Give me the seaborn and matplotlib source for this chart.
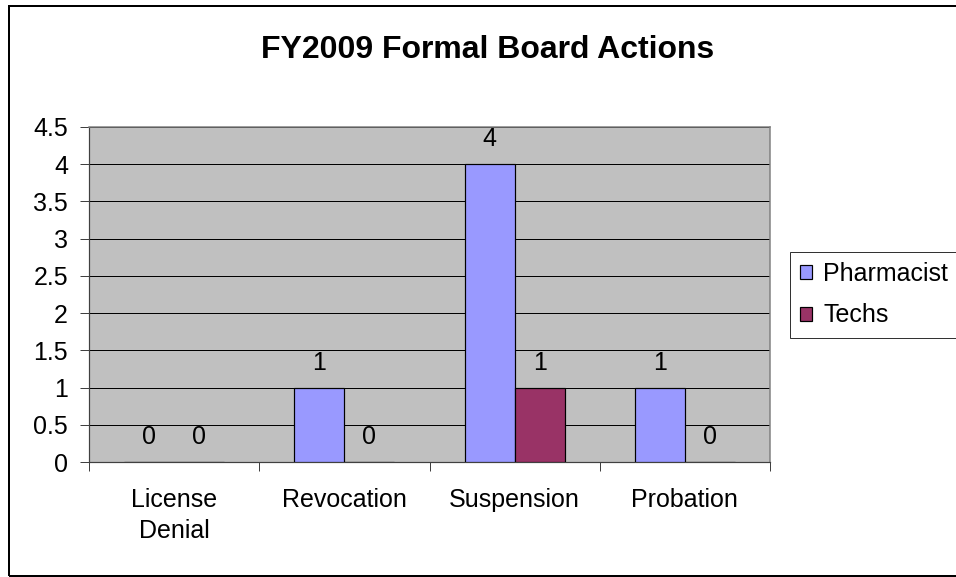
import matplotlib
matplotlib.use("Agg")
import matplotlib.pyplot as plt
import matplotlib.patches as mpatches
import pandas as pd
import seaborn as sns

# Données du graphique
categories = ["License\nDenial", "Revocation", "Suspension", "Probation"]
pharmacist = [0, 1, 4, 1]
techs = [0, 0, 1, 0]
series_names = ["Pharmacist", "Techs"]
y_ticks = [0, 0.5, 1, 1.5, 2, 2.5, 3, 3.5, 4, 4.5]

df = pd.DataFrame({
    "categorie": categories * 2,
    "valeur": pharmacist + techs,
    "serie": [series_names[0]] * len(categories) + [series_names[1]] * len(categories),
})

sns.set_theme(style="white")
plt.rcParams["font.family"] = ["Liberation Sans", "DejaVu Sans"]
plt.rcParams["text.color"] = "black"
plt.rcParams["xtick.labelcolor"] = "black"
plt.rcParams["ytick.labelcolor"] = "black"

fig = plt.figure(figsize=(956 / 72, 577 / 72), dpi=72)
ax = fig.add_axes([89 / 956, 1 - 462 / 577, (770 - 89) / 956, (462 - 127) / 577])

sns.barplot(
    data=df, x="categorie", y="valeur", hue="serie",
    palette=["#9999FF", "#993366"], width=0.588,
    edgecolor="black", linewidth=1.2, saturation=1, ax=ax, zorder=3,
)

# Fond gris type Excel et quadrillage noir
ax.set_facecolor("#C0C0C0")
ax.set_ylim(0, 4.5)
ax.set_xlim(-0.5, len(categories) - 0.5)
ax.set_yticks(y_ticks)
ax.set_yticklabels([f"{t:g}" for t in y_ticks])
ax.yaxis.grid(True, color="black", linewidth=1)
ax.set_axisbelow(True)
ax.set_xlabel("")
ax.set_ylabel("")

for side in ["top", "right"]:
    ax.spines[side].set_color("#808080")
    ax.spines[side].set_linewidth(1.5)
for side in ["left", "bottom"]:
    ax.spines[side].set_color("#404040")
    ax.spines[side].set_linewidth(1.2)

ax.tick_params(axis="y", left=True, length=9, width=1, pad=12, labelsize=25,
               color="#404040", labelcolor="black")
ax.tick_params(axis="x", which="major", length=0, pad=26, labelsize=25, labelcolor="black")
ax.set_xticks([i + 0.5 for i in range(-1, len(categories))], minor=True)
ax.tick_params(axis="x", which="minor", bottom=True, length=9, width=1, color="#404040")
for lbl in ax.get_xticklabels():
    lbl.set_linespacing(1.35)

# Étiquettes de valeurs au-dessus des barres
for cont in ax.containers:
    ax.bar_label(cont, fmt="%g", padding=13, fontsize=25, color="black")

# Légende à droite
handles, labels = ax.get_legend_handles_labels()
ax.get_legend().remove()
leg = fig.legend(
    handles, labels, loc="upper left", bbox_to_anchor=(790 / 956, 1 - 252 / 577),
    fontsize=25, frameon=True, fancybox=False, edgecolor="black",
    handlelength=0.48, handleheight=0.48, handletextpad=0.44,
    labelspacing=0.7, borderpad=0.4, borderaxespad=0,
)
leg.get_frame().set_linewidth(1)
for txt in leg.get_texts():
    txt.set_color("black")

fig.text(488 / 956, 1 - 50 / 577, "FY2009 Formal Board Actions",
         ha="center", va="center", fontsize=32, fontweight="bold", color="black")

# Cadre extérieur du graphique
fig.patches.append(mpatches.Rectangle(
    (9 / 956, 1 / 577), 1.2, 1 - 7 / 577, transform=fig.transFigure,
    fill=False, edgecolor="black", linewidth=2, clip_on=False,
))

fig.savefig("out.png", dpi=72, facecolor="white")
